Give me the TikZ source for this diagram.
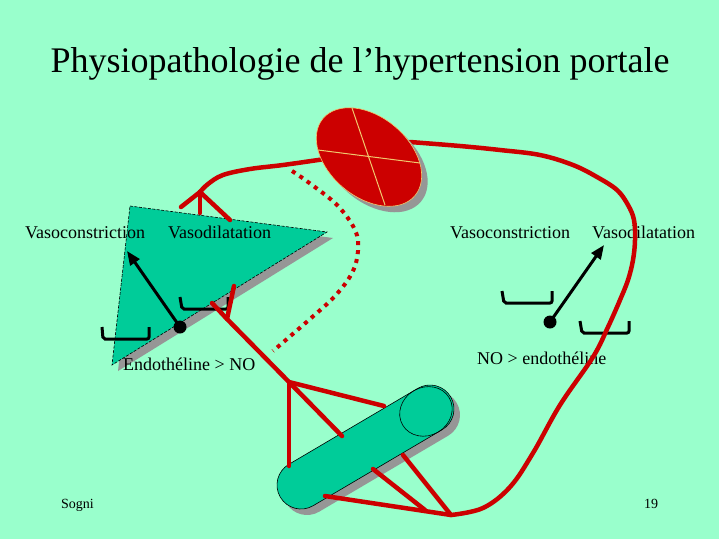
\documentclass[tikz,border=0pt]{standalone}
\usepackage{fontspec}
\setmainfont{Liberation Serif}
\usetikzlibrary{arrows.meta}
\definecolor{bgc}{RGB}{153,255,204}
\definecolor{tealc}{RGB}{0,204,153}
\definecolor{vred}{RGB}{204,0,0}
\definecolor{shad}{RGB}{150,150,150}
\definecolor{crossc}{RGB}{240,200,110}
\begin{document}
\begin{tikzpicture}[x=1pt,y=-1pt,
  vessel/.style={vred,line width=4.5pt,line cap=round,line join=round},
  dotvessel/.style={vred,line width=4pt,dash pattern=on 4pt off 5pt},
  bracketline/.style={black,line width=3pt,rounded corners=2pt},
  blackarrow/.style={black,line width=3pt,-{Triangle[length=14pt,width=11pt]}},
  lbl/.style={inner sep=0pt,font=\fontsize{18}{21}\selectfont},
  foot/.style={inner sep=0pt,font=\fontsize{14}{16}\selectfont}]
\fill[bgc] (0,0) rectangle (719,539);
\useasboundingbox (0,0) rectangle (719,539);

% triangle with shadow
\fill[shad] (136,212) -- (333,238) -- (118,371) -- cycle;
\fill[tealc] (130,206) -- (327,232) -- (112,365) -- cycle;
\draw[black,line width=0.6pt,dash pattern=on 3pt off 1.5pt] (130,206) -- (327,232) -- (112,365) -- cycle;

% capsule with shadow
\begin{scope}[shift={(307,491)},rotate=30.5]
  \fill[shad,rounded corners=24pt] (-24,-24) rectangle (173.7,24);
\end{scope}
\begin{scope}[shift={(301,485)},rotate=30.5]
  \filldraw[fill=tealc,draw=black,line width=0.6pt,rounded corners=24pt] (-24,-24) rectangle (173.7,24);
  \draw[black,line width=0.6pt] (145,0) ellipse [x radius=27,y radius=24];
\end{scope}

% texts
\node[anchor=base] (title) at (360,72) {\fontsize{36}{40}\selectfont Physiopathologie de l’hypertension portale};
\node[lbl,anchor=base west] (vcL) at (25,238) {Vasoconstriction};
\node[lbl,anchor=base west] (vdL) at (168,238) {Vasodilatation};
\node[lbl,anchor=base west] (enL) at (123,370) {Endothéline > NO};
\node[lbl,anchor=base west] (vcR) at (450,238) {Vasoconstriction};
\node[lbl,anchor=base west] (vdR) at (592,238) {Vasodilatation};
\node[lbl,anchor=base west] (noR) at (477,364) {NO > endothéline};
\node[foot,anchor=base west] (auth) at (61,508) {Sogni};
\node[foot,anchor=base] (page) at (651,508) {19};

% brackets
\draw[bracketline] (102,327) -- (103,339) -- (149,339) -- (149,327);
\draw[bracketline] (180,297) -- (182,309) -- (228,309) -- (228,297);
\draw[bracketline] (502,291) -- (504,303) -- (552,303) -- (552,291);
\draw[bracketline] (580,321) -- (582,333) -- (629,333) -- (629,321);

% pointers
\coordinate (dotL) at (180,327);
\coordinate (tipL) at (127,251);
\coordinate (dotR) at (550,322);
\coordinate (tipR) at (604,245);
\fill[black] (dotL) circle (6.5);
\fill[black] (dotR) circle (6.5);
\draw[blackarrow] (dotL) -- (tipL);
\draw[blackarrow] (dotR) -- (tipR);

% vessels
\coordinate (J1) at (200,192);
\coordinate (J2) at (227,319);
\coordinate (J3) at (289,382);
\coordinate (J4) at (451,515);
\draw[dotvessel] plot[smooth,tension=0.6] coordinates {(292,171) (308,182) (337,205) (355,230) (358,251) (352,273) (335,296) (310,319) (273,351)};
\draw[vessel] plot[smooth,tension=0.6] coordinates {(325,159) (283,165) (250,169) (223,175) (208,184) (J1)};
\draw[vessel] (J1) -- (181,207);
\draw[vessel] (J1) -- (200,213);
\draw[vessel] (J1) -- (230,220);
\draw[vessel] (212,303) -- (J2) -- (J3);
\draw[vessel] (J2) -- (234,286);
\draw[vessel] (J3) -- (289,466);
\draw[vessel] (J3) -- (342,436);
\draw[vessel] (J3) -- (384,406);
\draw[vessel] (325,496) -- (J4);
\draw[vessel] (373,469) -- (425,510);
\draw[vessel] (403,455) -- (J4);
\draw[vessel] plot[smooth,tension=0.6] coordinates {(J4) (483,508) (510,487) (533,453) (560,405) (593,357) (608,327) (620,300) (628,280) (633,260) (635,240) (634,220) (628,205) (617,190) (597,177) (573,165) (540,155) (500,150) (460,146) (410,142)};

% liver-like ellipse with shadow
\begin{scope}[shift={(375,163)},rotate=-40]
  \fill[shad] (0,0) ellipse [x radius=60,y radius=40];
\end{scope}
\begin{scope}[shift={(369,157)},rotate=-40]
  \filldraw[fill=vred,draw=crossc,line width=0.6pt] (0,0) ellipse [x radius=60,y radius=40];
\end{scope}
\draw[crossc,line width=1pt] (352,108) -- (385,205);
\draw[crossc,line width=1pt] (318,150) -- (420,163);
\end{tikzpicture}
\end{document}
